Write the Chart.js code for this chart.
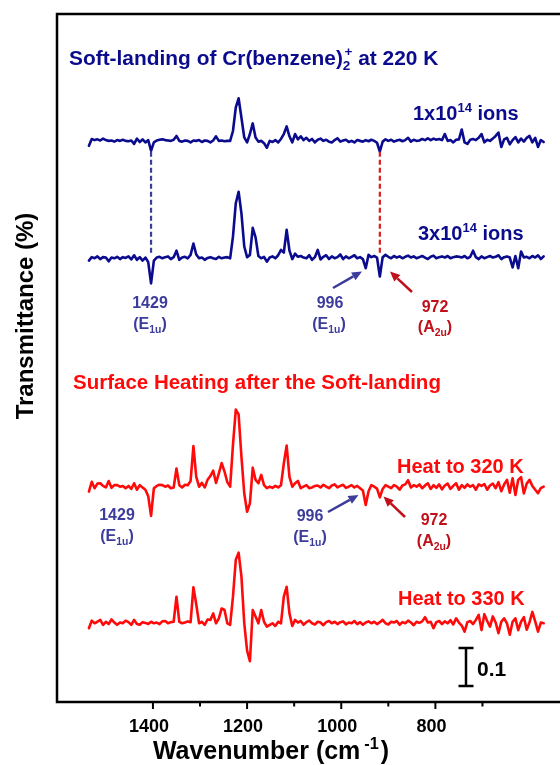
<!DOCTYPE html>
<html><head><meta charset="utf-8">
<script src="https://cdn.jsdelivr.net/npm/chart.js@4.4.0/dist/chart.umd.min.js"></script>
<style>html,body{margin:0;padding:0;background:#fff;}</style>
</head><body>
<canvas id="c" width="560" height="765"></canvas>
<script>
// x positions (axis units)
const wavenumbers = [
1536,1530,1524,1518,1512,1506,1500,1494,1488,1482,
1476,1470,1464,1458,1452,1446,1440,1434,1428,1422,
1416,1410,1404,1398,1392,1386,1380,1374,1368,1362,
1356,1350,1344,1338,1332,1326,1320,1314,1308,1302,
1296,1290,1284,1278,1272,1266,1260,1254,1248,1242,
1236,1230,1224,1218,1212,1206,1200,1194,1188,1182,
1176,1170,1164,1158,1152,1146,1140,1134,1128,1122,
1116,1110,1104,1098,1092,1086,1080,1074,1068,1062,
1056,1050,1044,1038,1032,1026,1020,1014,1008,1002,
996,990,984,978,972,966,960,954,948,942,
936,930,924,918,912,906,900,894,888,882,
876,870,864,858,852,846,840,834,828,822,
816,810,804,798,792,786,780,774,768,762,
756,750,744,738,732,726,720,714,708,702,
696,690,684,678,672,666,660,654,648,642,
636,630,624,618,612,606,600,594,588,582,
576,570];

// spectra: deviation from each trace's baseline, in units of 0.001 transmittance
const ions1e14 = [
-13,5,2,4,1,6,2,0,1,-2,
2,0,3,0,-1,1,-8,6,-3,4,
-4,2,-26,-4,1,3,4,2,1,0,
3,13,0,-2,1,0,-4,1,0,2,
-3,1,0,-4,1,12,0,1,-1,0,
0,26,88,112,61,9,-4,18,46,9,
-2,0,-6,-18,0,-3,2,-4,5,18,
38,12,-4,18,4,12,2,8,0,5,
-4,3,6,0,3,-2,-4,2,7,-2,
1,3,-3,0,-4,2,0,-2,2,-1,
3,0,-5,-28,-2,4,0,3,-2,1,
3,-1,2,8,-2,3,0,1,5,2,
7,2,6,3,5,2,18,0,2,-4,
3,4,30,-4,-8,3,5,2,8,18,
-4,3,0,6,13,22,-16,4,8,-9,
2,10,-4,6,-2,8,13,-4,8,-16,
2,-3];

const ions3e14 = [
-6,3,0,5,-2,3,2,-8,2,0,
4,-2,3,1,5,-3,8,-4,3,-6,
2,-10,-66,-6,2,4,0,3,5,-2,
3,20,-4,2,4,0,9,39,10,0,
2,-4,1,3,0,-2,4,0,2,3,
0,57,145,175,118,31,3,9,80,55,
6,0,4,-9,2,5,0,8,22,15,
75,20,-2,12,4,6,2,0,8,-4,
3,22,-3,4,8,-2,5,0,3,10,
-2,5,0,4,8,0,3,-2,-26,9,
3,6,2,-48,3,9,4,0,6,2,
5,0,4,7,2,5,0,3,6,2,
-2,4,7,0,3,5,2,6,0,3,
5,4,2,6,0,4,20,3,-2,5,
0,3,6,2,4,8,-2,3,5,2,
-24,6,-26,18,2,4,0,6,2,8,
-2,5];

const heat320 = [
-13,13,-4,8,9,2,-2,15,-3,4,
4,0,2,-4,2,-6,9,-8,4,-2,
-8,-25,-77,-4,2,5,4,0,3,-4,
-2,48,4,-2,5,4,15,107,26,0,
10,-2,18,28,42,10,35,62,40,12,
0,110,203,190,79,-18,-66,-44,50,18,
9,31,4,-4,0,-3,2,-2,4,61,
108,26,0,9,15,-4,0,4,-4,-2,
2,3,-2,5,0,-4,3,6,-2,2,
5,-3,0,4,-2,2,-4,-10,-48,-12,
4,0,-5,-28,-6,4,0,-4,4,0,
-8,3,6,17,-2,4,0,6,-4,3,
9,-6,4,-3,6,-7,3,8,-6,2,
9,-8,4,-3,6,0,4,-8,6,2,
7,-8,3,8,-4,12,-12,6,18,-16,
22,-22,18,25,-18,8,18,2,-8,-17,
-4,0];

const heat330 = [
-13,7,0,4,9,-4,4,-2,10,2,
-4,2,0,7,3,-4,9,-2,-4,3,
1,-2,4,0,2,-2,5,6,0,3,
4,70,4,0,2,5,3,95,50,0,
4,-4,10,9,26,0,13,39,35,0,
-4,70,167,186,123,0,-72,-100,35,18,
0,35,4,-9,-4,0,-7,4,0,70,
96,26,-7,9,2,6,-4,3,7,0,
-3,4,2,-5,3,6,0,4,-2,3,
5,-3,2,0,6,-2,3,-4,2,5,
0,4,-2,3,9,0,-3,4,2,6,
-4,3,0,7,2,-5,4,1,5,16,
2,4,-13,3,6,-2,5,0,8,-3,
13,2,-6,-22,3,6,-2,9,22,-18,
24,6,-9,18,2,-26,4,13,0,-30,
4,13,-18,4,16,-17,3,30,5,-22,
2,0];

const seriesValues = [ions1e14, ions3e14, heat320, heat330];
const baselines = [1.474, 1.165, 0.564, 0.2045];   // vertical offset of each trace
const seriesColors = ['#0b0b8e', '#0b0b8e', '#ff0a0a', '#ff0a0a'];
const xTickLabels = [1400, 1200, 1000, 800];
const xMinorTicks = [1300, 1100, 900, 700];
const UNIT = 0.001;
const markerLines = [ {x:1404, y0:1.4455, y1:1.179, color:'#3c3c9c'}, {x:918, y0:1.4455, y1:1.174, color:'#d42020'} ];
const scaleBar = 0.1;

const FONT = '"Liberation Sans", Arial, sans-serif';
const BLUE2 = '#3c3c9c', RED2 = '#c0101a', NAVY = '#0b0b8e', RED = '#ff0a0a';

function rich(ctx, parts, x, y, size, color, align) {
  ctx.save(); ctx.fillStyle = color; ctx.textBaseline = 'alphabetic'; ctx.textAlign = 'left';
  const f = s => `bold ${s}px ${FONT}`;
  let w = 0;
  for (const p of parts) { ctx.font = f(p[1] ? size*0.65 : size); w += ctx.measureText(p[0]).width + (p[2]||0); }
  let cx = align === 'center' ? x - w/2 : x;
  for (const p of parts) {
    const s = p[1] ? size*0.65 : size; ctx.font = f(s);
    const dy = p[1] === 1 ? size*0.25 : (p[1] === 2 ? -size*0.42 : 0);
    ctx.fillText(p[0], cx, y + dy);
    cx += ctx.measureText(p[0]).width + (p[2]||0);
  }
  ctx.restore();
}
function arrow(ctx, x0, y0, x1, y1, color) {
  const a = Math.atan2(y1-y0, x1-x0), L = 10, W = 4.5;
  const bx = x1 - L*Math.cos(a), by = y1 - L*Math.sin(a);
  ctx.save(); ctx.strokeStyle = color; ctx.fillStyle = color; ctx.lineWidth = 2.5;
  ctx.beginPath(); ctx.moveTo(x0, y0); ctx.lineTo(bx, by); ctx.stroke();
  ctx.beginPath(); ctx.moveTo(x1, y1);
  ctx.lineTo(bx + W*Math.sin(a), by - W*Math.cos(a));
  ctx.lineTo(bx - W*Math.sin(a), by + W*Math.cos(a));
  ctx.closePath(); ctx.fill(); ctx.restore();
}

const decor = {
  id: 'decor',
  afterDraw(chart) {
    const ctx = chart.ctx, ca = chart.chartArea, xs = chart.scales.x, ys = chart.scales.y;
    ctx.save();
    // frame
    ctx.strokeStyle = '#000'; ctx.lineWidth = 2.5; ctx.lineCap = 'butt';
    ctx.beginPath();
    ctx.moveTo(560, ca.top + 1); ctx.lineTo(ca.left, ca.top + 1); ctx.lineTo(ca.left, ca.bottom + 1); ctx.lineTo(560, ca.bottom + 1);
    ctx.stroke();
    // ticks
    ctx.lineWidth = 2;
    for (const v of xTickLabels) { const px = xs.getPixelForValue(v); ctx.beginPath(); ctx.moveTo(px, ca.bottom + 1); ctx.lineTo(px, ca.bottom + 8); ctx.stroke(); }
    for (const v of xMinorTicks) { const px = xs.getPixelForValue(v); ctx.beginPath(); ctx.moveTo(px, ca.bottom + 1); ctx.lineTo(px, ca.bottom + 5.5); ctx.stroke(); }
    // dashed marker lines
    for (const m of markerLines) {
      ctx.save(); ctx.strokeStyle = m.color; ctx.lineWidth = 2.2; ctx.setLineDash([5, 3]);
      const px = xs.getPixelForValue(m.x);
      ctx.beginPath(); ctx.moveTo(px, ys.getPixelForValue(m.y0)); ctx.lineTo(px, ys.getPixelForValue(m.y1)); ctx.stroke();
      ctx.restore();
    }
    // scale bar
    const sbx = 466, sb0 = 686, sb1 = sb0 - (ys.getPixelForValue(0) - ys.getPixelForValue(scaleBar));
    ctx.lineWidth = 2.5; ctx.beginPath();
    ctx.moveTo(sbx, sb0); ctx.lineTo(sbx, sb1);
    ctx.moveTo(sbx - 7.5, sb0); ctx.lineTo(sbx + 7.5, sb0);
    ctx.moveTo(sbx - 7.5, sb1); ctx.lineTo(sbx + 7.5, sb1);
    ctx.stroke();
    rich(ctx, [['0.1']], 477, 676, 21, '#000');
    // axis titles
    ctx.save(); ctx.translate(33, 316); ctx.rotate(-Math.PI/2);
    ctx.font = `bold 24px ${FONT}`; ctx.fillStyle = '#000'; ctx.textAlign = 'center'; ctx.textBaseline = 'alphabetic';
    ctx.fillText('Transmittance (%)', 0, 0); ctx.restore();
    rich(ctx, [['Wavenumber (cm', 0, 4], ['-1', 2, 2], [')']], 271, 759, 25, '#000', 'center');
    // texts
    rich(ctx, [['Soft-landing of Cr(benzene)'], ['2', 1, -6], ['+', 2], [' at 220 K']], 69, 65, 20.9, NAVY);
    rich(ctx, [['1x10'], ['14', 2], [' ions']], 413, 120, 20, NAVY);
    rich(ctx, [['3x10'], ['14', 2], [' ions']], 418, 240, 20, NAVY);
    rich(ctx, [['Surface Heating after the Soft-landing']], 73, 389, 20.5, RED);
    rich(ctx, [['Heat to 320 K']], 397, 473, 20, RED);
    rich(ctx, [['Heat to 330 K']], 398, 605, 20, RED);
    // band annotations (upper)
    rich(ctx, [['1429']], 150, 308, 16, BLUE2, 'center');
    rich(ctx, [['(E'], ['1u', 1], [')']], 150, 329, 16, BLUE2, 'center');
    rich(ctx, [['996']], 330, 308, 16, BLUE2, 'center');
    rich(ctx, [['(E'], ['1u', 1], [')']], 329, 329, 16, BLUE2, 'center');
    rich(ctx, [['972']], 435, 312, 16, RED2, 'center');
    rich(ctx, [['(A'], ['2u', 1], [')']], 435, 332, 16, RED2, 'center');
    arrow(ctx, 333, 288, 362, 271.5, BLUE2);
    arrow(ctx, 412, 292, 390, 271.5, RED2);
    // band annotations (lower)
    rich(ctx, [['1429']], 117, 520, 16, BLUE2, 'center');
    rich(ctx, [['(E'], ['1u', 1], [')']], 117, 541, 16, BLUE2, 'center');
    rich(ctx, [['996']], 310, 521, 16, BLUE2, 'center');
    rich(ctx, [['(E'], ['1u', 1], [')']], 310, 542, 16, BLUE2, 'center');
    rich(ctx, [['972']], 434, 525, 16, RED2, 'center');
    rich(ctx, [['(A'], ['2u', 1], [')']], 434, 546, 16, RED2, 'center');
    arrow(ctx, 328, 512, 358.5, 495, BLUE2);
    arrow(ctx, 405, 517, 383.5, 496.5, RED2);
    ctx.restore();
  }
};

const datasets = seriesValues.map((vals, k) => ({
  data: wavenumbers.map((w, i) => ({ x: w, y: baselines[k] + vals[i] * UNIT })),
  borderColor: seriesColors[k], borderWidth: 2.6, pointRadius: 0, tension: 0,
  borderJoinStyle: 'round', borderCapStyle: 'round', fill: false
}));

new Chart(document.getElementById('c'), {
  type: 'line',
  data: { datasets },
  options: {
    responsive: false, animation: false, devicePixelRatio: 1,
    layout: { padding: { left: 57, top: 13, right: 0, bottom: 0 } },
    plugins: { legend: { display: false }, tooltip: { enabled: false } },
    scales: {
      x: {
        type: 'linear', reverse: true, min: 535.3, max: 1603.8,
        afterFit: s => { s.height = 64; },
        afterBuildTicks: s => { s.ticks = xTickLabels.map(v => ({ value: v })); },
        grid: { display: false, drawTicks: false }, border: { display: false },
        ticks: { font: { family: FONT, size: 18, weight: 'bold' }, color: '#000', padding: 15, maxRotation: 0, autoSkip: false,
                 labelOffset: -4, callback: v => String(v) }
      },
      y: { display: false, min: 0, max: 1.8105 }
    }
  },
  plugins: [decor]
});
</script>
</body></html>
